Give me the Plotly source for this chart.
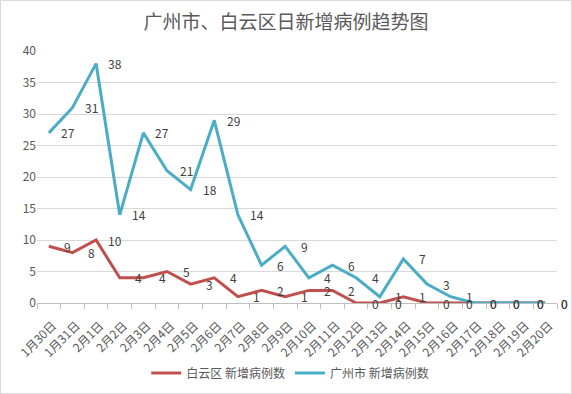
import plotly.graph_objects as go

dates = ["1月30日", "1月31日", "2月1日", "2月2日", "2月3日", "2月4日", "2月5日", "2月6日",
         "2月7日", "2月8日", "2月9日", "2月10日", "2月11日", "2月12日", "2月13日", "2月14日",
         "2月15日", "2月16日", "2月17日", "2月18日", "2月19日", "2月20日"]
baiyun = [9, 8, 10, 4, 4, 5, 3, 4, 1, 2, 1, 2, 2, 0, 0, 1, 0, 0, 0, 0, 0, 0]
guangzhou = [27, 31, 38, 14, 27, 21, 18, 29, 14, 6, 9, 4, 6, 4, 1, 7, 3, 1, 0, 0, 0, 0]

series_names = ["白云区 新增病例数", "广州市 新增病例数"]
colors = ["#C0504D", "#4BACC6"]

W, H = 572, 394
L, R, T, B = 37, 15, 51, 91
pw, ph = W - L - R, H - T - B

FONT = "Noto Sans CJK SC, Liberation Sans, sans-serif"

fig = go.Figure()
for name, vals, col in zip(series_names, [baiyun, guangzhou], colors):
    fig.add_trace(go.Scatter(x=dates, y=vals, mode="lines", name=name,
                             line=dict(color=col, width=3)))

annotations = []
for vals in [baiyun, guangzhou]:
    for d, v in zip(dates, vals):
        annotations.append(dict(x=d, y=v, text=str(v), showarrow=False, xref="x", yref="y",
                                xshift=19, font=dict(size=12, color="#404040", family=FONT)))

fig.update_layout(
    width=W, height=H,
    margin=dict(l=L, r=R, t=T, b=B, autoexpand=False),
    paper_bgcolor="white", plot_bgcolor="white",
    font=dict(family=FONT, color="#595959"),
    title=dict(text="广州市、白云区日新增病例趋势图", x=0.5, xref="container", xanchor="center",
               y=1 - 22 / H, yanchor="middle", yref="container",
               font=dict(size=19, color="#595959", family=FONT)),
    xaxis=dict(type="category", range=[-0.5, len(dates) - 0.5], tickangle=-45,
               tickson="boundaries", ticks="outside",
               ticklen=5, tickcolor="#BFBFBF", showline=True, linecolor="#BFBFBF",
               showgrid=False, tickfont=dict(size=12, color="#595959"), fixedrange=True,
               ticklabelshift=4, ticklabelstandoff=10, automargin=False),
    yaxis=dict(range=[0, 40], dtick=5, showgrid=True, gridcolor="#D9D9D9", gridwidth=1,
               zeroline=False, showline=False, tickfont=dict(size=12, color="#595959"),
               ticks="", ticklabelstandoff=0, automargin=False),
    legend=dict(orientation="h", x=0.487, xanchor="center", y=(303 - 373) / ph, yanchor="middle",
                font=dict(size=12, color="#595959"), itemwidth=30),
    showlegend=True,
    annotations=annotations,
    shapes=[dict(type="rect", xref="paper", yref="paper",
                 x0=(0.5 - L) / pw, x1=(W - 0.5 - L) / pw,
                 y0=-(B - 0.5) / ph, y1=1 + (T - 0.5) / ph,
                 line=dict(color="#D9D9D9", width=1), layer="below")],
)

fig.write_html("out.html", config={"displayModeBar": False},
               post_script="document.body.style.margin='0';document.body.style.overflow='hidden';")
